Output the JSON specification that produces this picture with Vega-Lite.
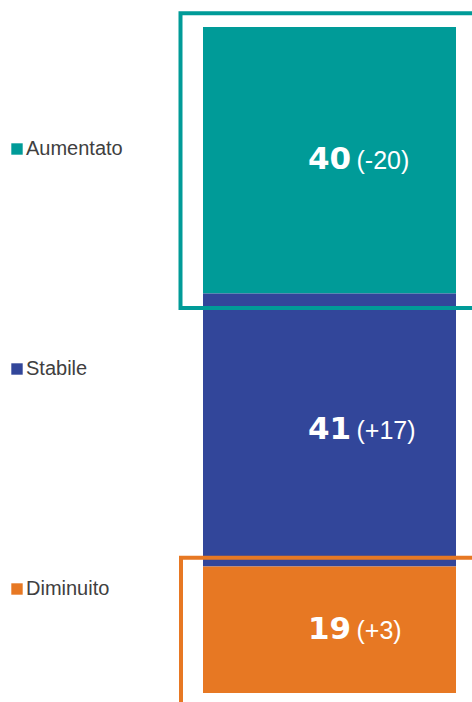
{
  "$schema": "https://vega.github.io/schema/vega-lite/v6.json",
  "width": 253,
  "height": 666,
  "autosize": "none",
  "padding": {"left": 203, "top": 27, "right": 16, "bottom": 9},
  "background": "white",
  "config": {"view": {"stroke": null}},
  "data": {
    "values": [
      {"group": "tot", "categoria": "Aumentato", "valore": 40, "variazione": "(-20)", "ord": 3},
      {"group": "tot", "categoria": "Stabile", "valore": 41, "variazione": "(+17)", "ord": 2},
      {"group": "tot", "categoria": "Diminuito", "valore": 19, "variazione": "(+3)", "ord": 1}
    ]
  },
  "transform": [
    {"stack": "valore", "groupby": ["group"], "sort": [{"field": "ord", "order": "ascending"}], "as": ["y0", "y1"]},
    {"calculate": "(datum.y0 + datum.y1) / 2", "as": "ymid"}
  ],
  "encoding": {
    "x": {"field": "group", "type": "nominal", "scale": {"paddingInner": 0, "paddingOuter": 0}, "axis": null}
  },
  "layer": [
    {
      "mark": {"type": "bar"},
      "encoding": {
        "y": {"field": "y1", "type": "quantitative", "scale": {"domain": [0, 100], "nice": false}, "axis": null},
        "y2": {"field": "y0"},
        "color": {
          "field": "categoria",
          "type": "nominal",
          "scale": {"domain": ["Aumentato", "Stabile", "Diminuito"], "range": ["#009B98", "#32469A", "#E77823"]},
          "legend": {
            "orient": "none",
            "direction": "vertical",
            "legendX": -196,
            "legendY": 112,
            "title": null,
            "symbolType": "square",
            "symbolSize": 130,
            "symbolStrokeWidth": 0,
            "labelFont": "Liberation Sans",
            "labelFontSize": 20,
            "labelColor": "#404040",
            "labelOffset": -1,
            "rowPadding": 200,
            "padding": 0
          }
        }
      }
    },
    {
      "transform": [{"filter": "datum.categoria === 'Aumentato'"}],
      "mark": {"type": "bar", "filled": false, "fill": "transparent", "stroke": "#009B98", "strokeWidth": 4, "width": 298, "yOffset": -13.7, "y2Offset": 14.5},
      "encoding": {
        "y": {"field": "y1", "type": "quantitative"},
        "y2": {"field": "y0"}
      }
    },
    {
      "transform": [{"filter": "datum.categoria === 'Diminuito'"}],
      "mark": {"type": "bar", "filled": false, "fill": "transparent", "stroke": "#E77823", "strokeWidth": 4, "width": 297, "yOffset": -8.7, "y2Offset": 30},
      "encoding": {
        "y": {"field": "y1", "type": "quantitative"},
        "y2": {"field": "y0"}
      }
    },
    {
      "mark": {"type": "text", "font": "DejaVu Sans", "fontWeight": "bold", "fontSize": 31, "fill": "white", "align": "center", "baseline": "middle"},
      "encoding": {
        "y": {"field": "ymid", "type": "quantitative"},
        "text": {"field": "valore", "type": "quantitative"}
      }
    },
    {
      "mark": {"type": "text", "font": "Liberation Sans", "fontSize": 25, "fill": "white", "align": "left", "baseline": "middle", "dx": 27, "dy": 1},
      "encoding": {
        "y": {"field": "ymid", "type": "quantitative"},
        "text": {"field": "variazione", "type": "nominal"}
      }
    }
  ]
}
